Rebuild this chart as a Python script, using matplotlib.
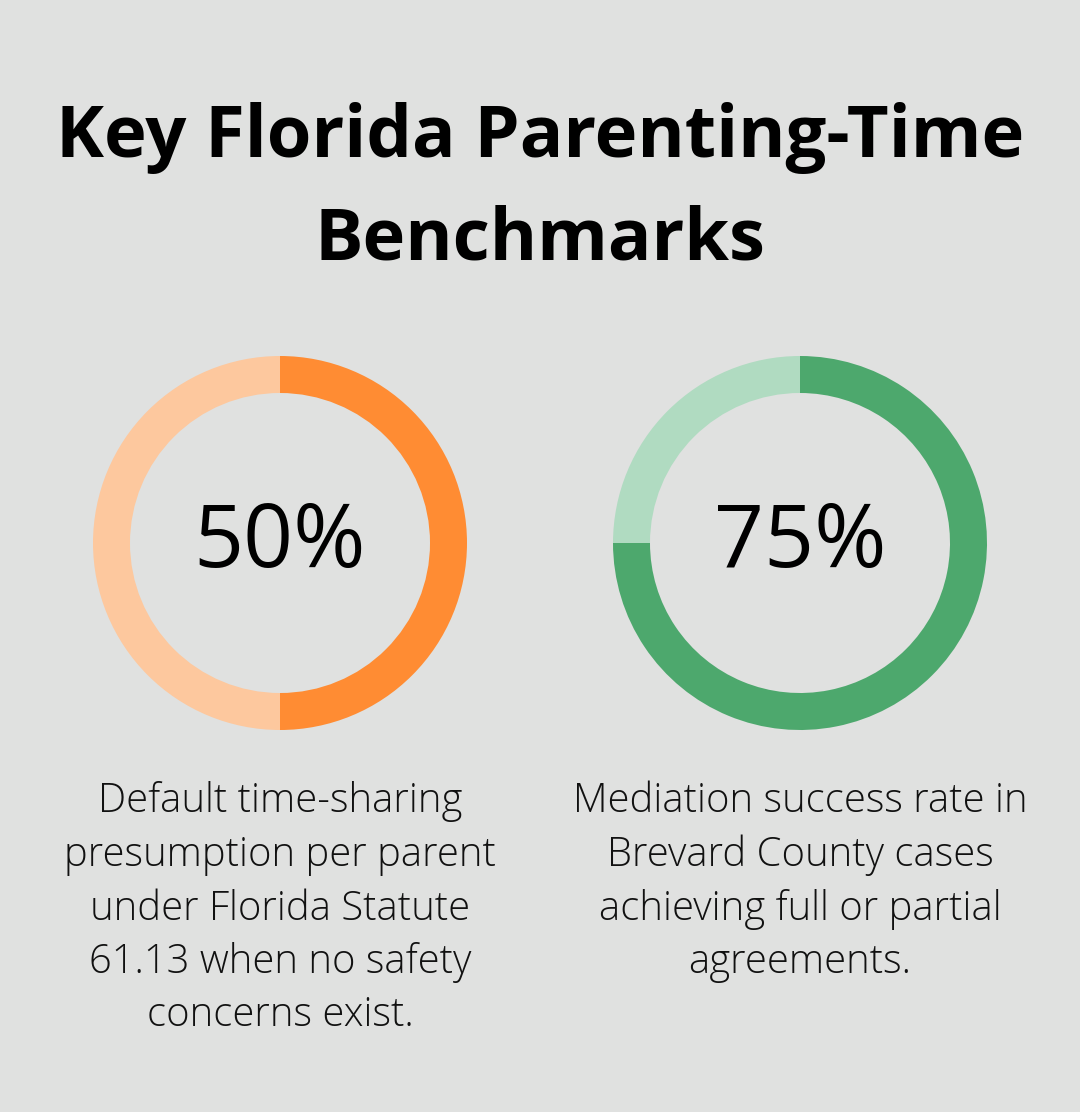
import matplotlib
matplotlib.use("Agg")
import matplotlib.pyplot as plt

title_lines = ["Key Florida Parenting-Time", "Benchmarks"]
values = [50, 75]
labels = ["50%", "75%"]
captions = [
    ["Default time-sharing", "presumption per parent", "under Florida Statute", "61.13 when no safety", "concerns exist."],
    ["Mediation success rate in", "Brevard County cases", "achieving full or partial", "agreements."],
]
main_colors = ["#FF8C33", "#4DA86D"]
light_colors = ["#FDC89E", "#B0DBC1"]
bg = "#E0E1E0"

W, H = 1080, 1112
fig = plt.figure(figsize=(W / 100, H / 100), dpi=100, facecolor=bg)
ax = fig.add_axes([0, 0, 1, 1])
ax.set_xlim(0, W)
ax.set_ylim(0, H)
ax.set_aspect("equal")
ax.axis("off")
ax.set_facecolor(bg)

def Y(py):
    return H - py

fam = ["Open Sans", "DejaVu Sans"]
ax.text(540, Y(138), title_lines[0], ha="center", va="center", fontsize=52, fontweight="bold", family=fam)
ax.text(540, Y(240), title_lines[1], ha="center", va="center", fontsize=52, fontweight="bold", family=fam)

centers_x = [280, 800]
cy = 543
for i in range(2):
    ax.pie([values[i], 100 - values[i]], colors=[main_colors[i], light_colors[i]],
           startangle=90, counterclock=False, radius=187, center=(centers_x[i], Y(cy)),
           wedgeprops=dict(width=37, linewidth=0), frame=True)
    ax.text(centers_x[i], Y(cy + 1), labels[i], ha="center", va="center", fontsize=63, family=fam)
    for j, line in enumerate(captions[i]):
        ax.text(centers_x[i], Y(802 + 53.5 * j), line, ha="center", va="center", fontsize=28.8,
                fontweight="light", family=fam, color="#111111")

ax.set_xlim(0, W)
ax.set_ylim(0, H)
ax.axis("off")
fig.savefig("out.png", dpi=100, facecolor=bg)
